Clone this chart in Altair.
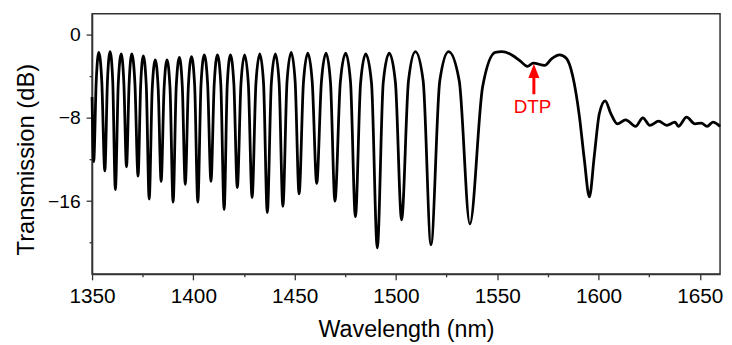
import altair as alt
import pandas as pd

# Transmission spectrum points (wavelength nm, transmission dB):
# dips, peaks and flank points of each fringe, then the flat tail.
wavelength_nm = [
    1350.0, 1350.8, 1352.05, 1353.3, 1354.8, 1356.3, 1357.6, 1358.9, 1360.2, 1361.5,
    1362.95, 1364.4, 1365.7, 1367.0, 1368.3, 1369.6, 1371.15, 1372.7, 1374.0, 1375.3,
    1376.75, 1378.2, 1379.7, 1381.2, 1382.65, 1384.1, 1385.55, 1387.0, 1388.5, 1390.0,
    1391.55, 1393.1, 1394.55, 1396.0, 1397.55, 1399.1, 1400.65, 1402.2, 1403.8, 1405.4,
    1407.05, 1408.7, 1410.3, 1411.9, 1413.55, 1415.2, 1416.75, 1418.3, 1420.0, 1421.7,
    1423.5, 1425.3, 1427.15, 1429.0, 1430.9, 1432.8, 1434.65, 1436.5, 1438.5, 1440.5,
    1442.35, 1444.2, 1446.25, 1448.3, 1450.25, 1452.2, 1454.35, 1456.5, 1458.7, 1460.9,
    1463.2, 1465.5, 1467.7, 1469.9, 1472.55, 1475.2, 1477.6, 1480.0, 1482.55, 1485.1,
    1487.95, 1490.8, 1493.75, 1496.7, 1499.75, 1502.8, 1506.2, 1509.6, 1513.45, 1517.3,
    1521.65, 1526.0, 1531.25, 1536.5, 1542.8, 1549.1, 1552.3, 1557.2, 1561.3, 1564.9,
    1567.8, 1573.5, 1576.8, 1580.8, 1584.1, 1587.3, 1590.6, 1593.0, 1595.5, 1597.9,
    1600.4, 1603.3, 1606.1, 1609.3, 1613.4, 1618.3, 1621.9, 1625.3, 1629.7, 1633.7,
    1637.8, 1639.4, 1643.5, 1647.6, 1650.8, 1653.6, 1656.5, 1660.0,
]
transmission_db = [
    -6.0, -12.2, -4.5, -1.70, -4.5, -13.1, -4.44, -1.64, -4.44, -14.9,
    -4.66, -1.86, -4.66, -12.7, -4.66, -1.86, -4.66, -13.6, -4.84, -2.04,
    -4.84, -15.8, -5.22, -2.42, -5.22, -14.1, -5.22, -2.42, -5.22, -16.1,
    -5.0, -2.20, -5.0, -14.4, -4.91, -2.11, -4.91, -16.1, -4.75, -1.95,
    -4.75, -14.1, -4.75, -1.95, -4.75, -16.8, -4.75, -1.95, -4.75, -14.7,
    -4.75, -1.95, -4.75, -15.65, -4.66, -1.86, -4.66, -17.1, -4.66, -1.86,
    -4.66, -16.5, -4.5, -1.70, -4.5, -15.3, -4.59, -1.79, -4.59, -14.3,
    -4.59, -1.79, -4.59, -16.0, -4.59, -1.79, -4.59, -17.5, -4.66, -1.86,
    -4.66, -20.5, -4.59, -1.79, -4.59, -17.8, -4.44, -1.64, -4.44, -20.2,
    -4.44, -1.64, -4.44, -18.2, -5.0, -1.70, -1.64, -1.95, -2.52, -3.05,
    -2.74, -2.96, -2.33, -1.95, -2.27, -4.0, -7.9, -12.0, -15.6, -11.7,
    -7.6, -6.36, -7.6, -8.57, -8.19, -8.82, -8.00, -8.72, -8.32, -8.72,
    -8.41, -8.82, -7.94, -8.57, -8.51, -8.82, -8.41, -8.82,
]

x_major = [1350, 1400, 1450, 1500, 1550, 1600, 1650]
x_minor = [1375, 1425, 1475, 1525, 1575, 1625]
y_major = [0, -8, -16]
y_minor = [-4, -12, -20]

df = pd.DataFrame({"wl": wavelength_nm, "t": transmission_db})

FONT = "Liberation Sans"
xscale = alt.Scale(domain=[1350, 1660], nice=False, zero=False)
yscale = alt.Scale(domain=[-23, 2], nice=False, zero=False)

line = alt.Chart(df).mark_line(color="black", strokeWidth=2.8, interpolate="monotone").encode(
    x=alt.X("wl:Q", scale=xscale, axis=alt.Axis(
        values=x_major, title="Wavelength (nm)", orient="bottom", format="d",
        labelFontSize=21, titleFontSize=23.5, tickSize=6, labelPadding=6, labelFlush=False,
        titleX=317.5, titleY=63, titleBaseline="alphabetic", titleAlign="center")),
    y=alt.Y("t:Q", scale=yscale, axis=alt.Axis(
        values=y_major, title="Transmission (dB)", orient="left",
        labelFontSize=19.5, titleFontSize=24, tickSize=6, labelPadding=6, labelFlush=False,
        titleX=-59, titleY=147, titleBaseline="alphabetic", titleAlign="center", titleAngle=-90)),
)

minor = alt.Chart(pd.DataFrame({"wl": [1400], "t": [0]})).mark_point(opacity=0).encode(
    x=alt.X("wl:Q", scale=xscale, axis=alt.Axis(
        values=x_minor, labels=False, title=None, orient="bottom", tickSize=3, domain=False)),
    y=alt.Y("t:Q", scale=yscale, axis=alt.Axis(
        values=y_minor, labels=False, title=None, orient="left", tickSize=3, domain=False)),
)

shaft = alt.Chart(pd.DataFrame({"x": [1568.1], "y": [-4.0], "y2": [-5.73]})).mark_rule(
    color="#ff0000", strokeWidth=3).encode(
    x=alt.X("x:Q", scale=xscale, axis=None),
    y=alt.Y("y:Q", scale=yscale, axis=None),
    y2="y2:Q",
)
head = alt.Chart(pd.DataFrame({"x": [1568.1], "y": [-3.5]})).mark_point(
    shape="M0,-1L0.8,1L-0.8,1Z", size=196, filled=True, color="#ff0000", opacity=1).encode(
    x=alt.X("x:Q", scale=xscale, axis=None),
    y=alt.Y("y:Q", scale=yscale, axis=None),
)
label = alt.Chart(pd.DataFrame({"x": [1567.4], "y": [-7.56], "txt": ["DTP"]})).mark_text(
    color="#ff0000", fontSize=19, font=FONT, baseline="alphabetic", align="center").encode(
    x=alt.X("x:Q", scale=xscale, axis=None),
    y=alt.Y("y:Q", scale=yscale, axis=None),
    text="txt:N",
)

chart = alt.layer(line, minor, shaft, head, label).resolve_axis(
    x="independent", y="independent"
).properties(
    width=635, height=263,
    autosize=alt.AutoSizeParams(type="none"),
    padding={"left": 85, "top": 4, "right": 4, "bottom": 69},
).configure_axis(
    labelFont=FONT, titleFont=FONT, labelColor="black", titleColor="black",
    titleFontWeight="normal", domainColor="#333333", domainWidth=1.5,
    tickColor="#333333", tickWidth=1.3, grid=False,
).configure_view(stroke="#333333", strokeWidth=1.5)

chart.save("out.html", embed_options={"renderer": "svg", "actions": False})
